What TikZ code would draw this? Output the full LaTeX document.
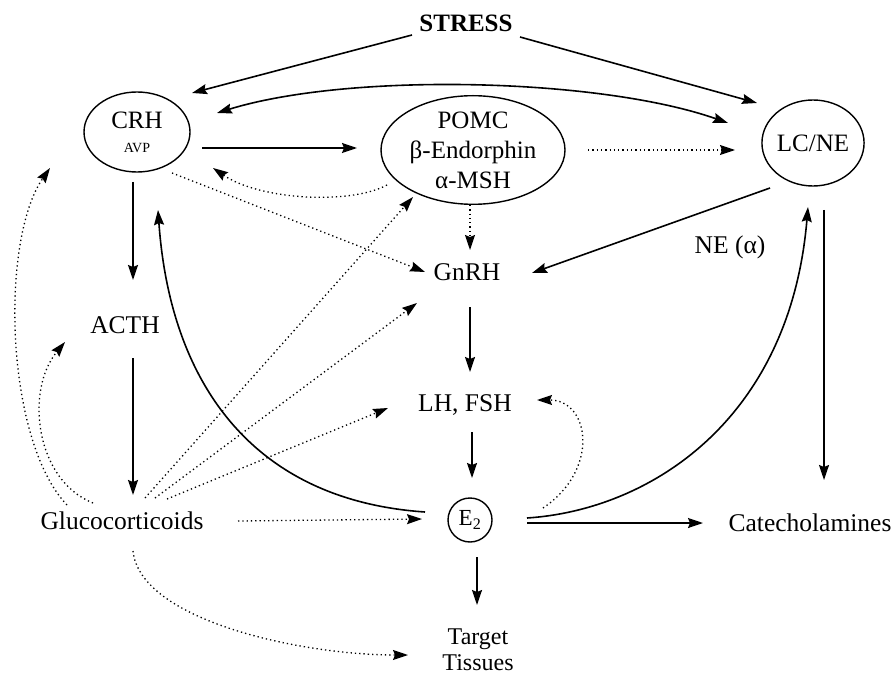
\documentclass[tikz,border=0pt]{standalone}
\usepackage{fontspec}
\setmainfont{Liberation Serif}
\usetikzlibrary{arrows.meta,shapes.geometric}
\tikzset{
  lbl/.style={inner sep=1pt, font=\fontsize{25.5}{30}\selectfont, align=center},
  oval/.style={draw, line width=1.4pt, ellipse, inner sep=0pt, font=\fontsize{25}{30}\selectfont, align=center},
  tip/.style={-{Stealth[length=15pt,width=10pt,inset=2pt]}},
  arr/.style={line width=1.6pt, tip},
  darr/.style={line width=1.6pt, {Stealth[length=15pt,width=10pt,inset=2pt]}-{Stealth[length=15pt,width=10pt,inset=2pt]}},
  dotarr/.style={line width=1.3pt, dash pattern=on 1.3pt off 3pt, tip}
}
\begin{document}
\begin{tikzpicture}[x=1pt,y=-1pt]
\useasboundingbox (0,0) rectangle (896,676);
% nodes
\node[lbl, font=\fontsize{25}{30}\selectfont\bfseries] (stress) at (466,23) {STRESS};
\node[oval, minimum width=106pt, minimum height=80pt] (crh) at (137,132)
  {CRH\\[-6pt]{\fontsize{14}{15}\selectfont AVP}};
\node[oval, minimum width=184pt, minimum height=96pt] (pomc) at (473,150)
  {POMC\\β-Endorphin\\α-MSH};
\node[oval, minimum width=102pt, minimum height=86pt] (lcne) at (813,143) {LC/NE};
\node[lbl] (gnrh) at (467,272) {GnRH};
\node[lbl] (ne) at (730,247) {NE (α)};
\node[lbl] (acth) at (125,325) {ACTH};
\node[lbl] (lhfsh) at (465,405) {LH, FSH};
\node[lbl] (gluco) at (122,521) {Glucocorticoids};
\node[draw, circle, line width=1.4pt, inner sep=0pt, minimum size=44pt,
      font=\fontsize{23}{26}\selectfont] (e2) at (470,520) {E\textsubscript{2}};
\node[lbl] (cat) at (810,523) {Catecholamines};
\node[lbl, font=\fontsize{24}{26}\selectfont] (target) at (478,650) {Target\\Tissues};

% solid connectors
\draw[arr] ([shift={(-54,12)}]stress.center) -- ([shift={(55,-39)}]crh.center);
\draw[arr] ([shift={(54,14)}]stress.center) -- ([shift={(-56,-40)}]lcne.center);
\draw[darr] ([shift={(80,-19)}]crh.center) .. controls (350,72) and (600,78) .. ([shift={(-85,-20)}]lcne.center);
\draw[arr] ([shift={(65,16)}]crh.center) -- ([shift={(-116,-2)}]pomc.center);
\draw[arr] ([shift={(-43,45)}]lcne.center) -- ([shift={(65,1)}]gnrh.center);
\draw[arr] ([shift={(-4,50)}]crh.center) -- ([shift={(8,-45)}]acth.center);
\draw[arr] ([shift={(8,33)}]acth.center) -- ([shift={(11,-26)}]gluco.center);
\draw[arr] ([shift={(3,35)}]gnrh.center) -- ([shift={(5,-33)}]lhfsh.center);
\draw[arr] ([shift={(7,27)}]lhfsh.center) -- ([shift={(2,-42)}]e2.center);
\draw[arr] ([shift={(7,37)}]e2.center) -- ([shift={(-1,-45)}]target.center);
\draw[arr] ([shift={(57,3)}]e2.center) -- ([shift={(-107,0)}]cat.center);
\draw[arr] ([shift={(11,67)}]lcne.center) -- ([shift={(14,-43)}]cat.center);
\draw[arr] ([shift={(-45,-8)}]e2.center) .. controls (250,500) and (170,380) .. ([shift={(21,78)}]crh.center);
\draw[arr] ([shift={(57,-2)}]e2.center) .. controls (650,510) and (790,420) .. ([shift={(-5,64)}]lcne.center);

% dotted connectors
\draw[dotarr] ([shift={(-86,35)}]pomc.center) .. controls (350,205) and (260,200) .. ([shift={(76,36)}]crh.center);
\draw[dotarr] ([shift={(35,41)}]crh.center) -- ([shift={(-42,0)}]gnrh.center);
\draw[dotarr] ([shift={(115,0)}]pomc.center) -- ([shift={(-78,7)}]lcne.center);
\draw[dotarr] ([shift={(-3,55)}]pomc.center) -- ([shift={(3,-22)}]gnrh.center);
\draw[dotarr] ([shift={(23,-23)}]gluco.center) -- ([shift={(-60,47)}]pomc.center);
\draw[dotarr] ([shift={(33,-23)}]gluco.center) -- ([shift={(-50,31)}]gnrh.center);
\draw[dotarr] ([shift={(45,-22)}]gluco.center) -- ([shift={(-77,3)}]lhfsh.center);
\draw[dotarr] ([shift={(116,0)}]gluco.center) -- ([shift={(-48,-1)}]e2.center);
\draw[dotarr] ([shift={(11,30)}]gluco.center) .. controls (140,620) and (300,655) .. ([shift={(-70,5)}]target.center);
\draw[dotarr] ([shift={(-29,-18)}]gluco.center) .. controls (35,480) and (25,390) .. ([shift={(-60,17)}]acth.center);
\draw[dotarr] ([shift={(-55,-16)}]gluco.center) .. controls (5,440) and (0,240) .. ([shift={(-87,36)}]crh.center);
\draw[dotarr] ([shift={(73,-12)}]e2.center) .. controls (600,470) and (590,400) .. ([shift={(72,-5)}]lhfsh.center);
\end{tikzpicture}
\end{document}
